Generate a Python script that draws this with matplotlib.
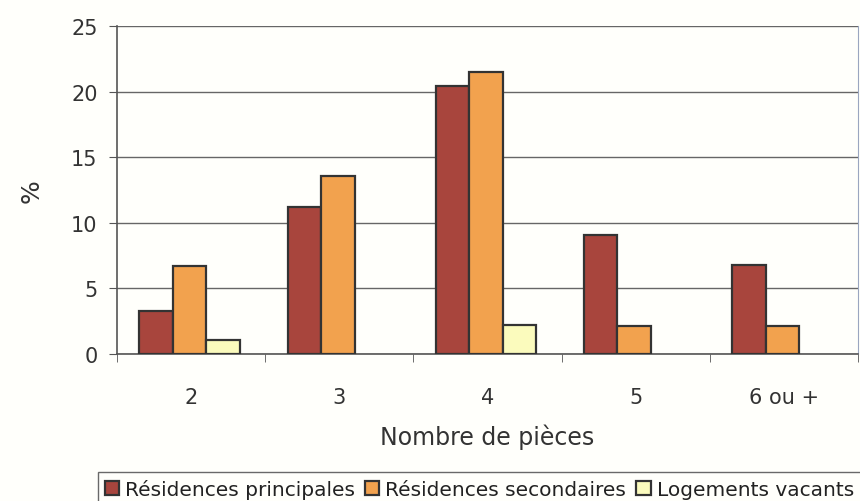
import numpy as np
import matplotlib.pyplot as plt

categories = ['2', '3', '4', '5', '6 ou +']
principales = [3.3, 11.2, 20.4, 9.1, 6.8]
secondaires = [6.7, 13.6, 21.5, 2.1, 2.1]
vacants = [1.1, 0.0, 2.2, 0.0, 0.0]

series = [('Résidences principales', principales, '#a8453d'),
          ('Résidences secondaires', secondaires, '#f2a24e'),
          ('Logements vacants', vacants, '#fbfbbd')]

plt.rcParams['font.family'] = ['DejaVu Sans']

fig = plt.figure(figsize=(8.6, 5.02), dpi=100, facecolor='#fffffb')
ax = fig.add_axes([117/860, 1-355/502, 741/860, 328/502])
ax.set_facecolor('#fffffb')

x = np.arange(len(categories))
w = 0.226
for i, (name, vals, col) in enumerate(series):
    vals = np.array(vals)
    pos = x + (i - 1) * w - 0.01
    mask = vals > 0
    ax.bar(pos[mask], vals[mask], w, color=col, edgecolor='#333333',
           linewidth=1.6, label=name, zorder=3)

ax.set_xlim(-0.5, len(categories) - 0.5)
ax.set_ylim(0, 25)
ax.set_yticks(range(0, 26, 5))
ax.yaxis.grid(True, color='#666666', linewidth=1.0, zorder=0)
ax.set_xticks(x)
ax.set_xticklabels(categories, fontsize=15, color='#333333')
ax.set_xticks(np.arange(-0.5, len(categories), 1), minor=True)
ax.tick_params(axis='x', which='major', length=0, pad=24)
ax.tick_params(axis='x', which='minor', length=6, color='#555555', direction='out')
ax.tick_params(axis='y', labelsize=15, labelcolor='#333333', length=6,
               color='#555555', direction='out', pad=8)
ax.spines['top'].set_visible(False)
ax.spines['right'].set_color('#9aa6c0')
ax.spines['right'].set_linewidth(0.8)
ax.spines['left'].set_color('#555555')
ax.spines['bottom'].set_color('#555555')
ax.spines['left'].set_linewidth(1.2)
ax.spines['bottom'].set_linewidth(1.2)

ax.set_xlabel('Nombre de pièces', fontsize=17, color='#333333', labelpad=12)
ax.set_ylabel('%', fontsize=18, color='#333333', labelpad=20)

leg = fig.legend(loc='upper left', bbox_to_anchor=(88/860, 1-463/502),
                 ncol=3, frameon=True, fancybox=False, fontsize=14.5,
                 handlelength=0.7, handleheight=0.7, handletextpad=0.3,
                 columnspacing=0.5, borderpad=0.35)
leg.get_frame().set_edgecolor('#444444')
leg.get_frame().set_linewidth(1.0)
leg.get_frame().set_facecolor('#fffffb')
for t in leg.get_texts():
    t.set_color('#222222')

fig.savefig('out.png', dpi=100, facecolor=fig.get_facecolor())
